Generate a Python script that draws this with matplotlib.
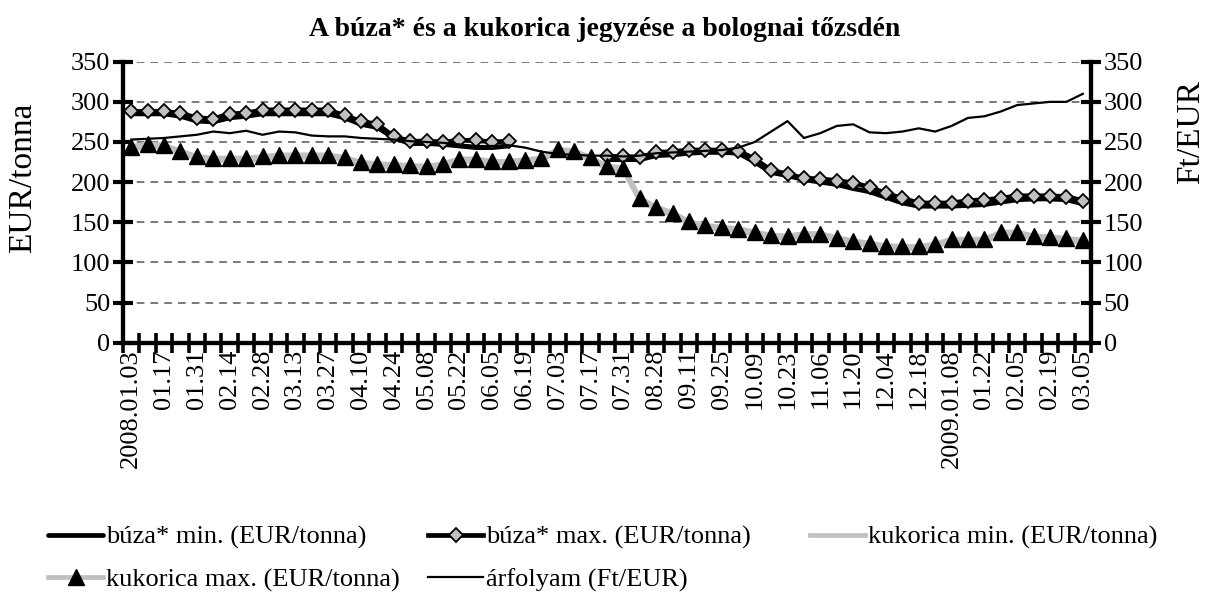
import matplotlib.pyplot as plt
import numpy as np

plt.rcParams['font.family'] = ['Liberation Serif', 'DejaVu Serif']

# weekly quotations, Bologna exchange, 2008.01.03 - 2009.03.05
dates = ['2008.01.03', '01.10', '01.17', '01.24', '01.31', '02.07', '02.14', '02.21',
         '02.28', '03.06', '03.13', '03.20', '03.27', '04.03', '04.10', '04.17',
         '04.24', '05.01', '05.08', '05.15', '05.22', '05.29', '06.05', '06.12',
         '06.19', '06.26', '07.03', '07.10', '07.17', '07.24', '07.31', '08.21',
         '08.28', '09.04', '09.11', '09.18', '09.25', '10.02', '10.09', '10.16',
         '10.23', '10.30', '11.06', '11.13', '11.20', '11.27', '12.04', '12.11',
         '12.18', '12.23', '2009.01.08', '01.15', '01.22', '01.29', '02.05', '02.12',
         '02.19', '02.26', '03.05']

nan = np.nan
wheat_min = [285, 285, 285, 282, 276, 275, 280, 282, 285, 285, 285, 285, 285, 280, 272, 268,
             255, 248, 248, 247, 245, 243, 243, 245, nan, nan, nan, nan, nan, 228, 228, 228,
             233, 234, 236, 237, 237, 236, 225, 212, 208, 203, 200, 197, 192, 188, 181, 174,
             170, 170, 170, 171, 172, 175, 178, 179, 179, 178, 173]
wheat_max = [288, 288, 288, 286, 280, 279, 285, 286, 290, 290, 290, 290, 290, 283, 276, 272,
             257, 251, 251, 250, 252, 252, 250, 251, nan, nan, nan, nan, nan, 232, 232, 231,
             237, 238, 240, 240, 240, 239, 229, 215, 210, 205, 204, 202, 199, 194, 186, 180,
             174, 174, 174, 177, 178, 180, 183, 183, 183, 182, 177]
corn_min = [240, 245, 243, 236, 229, 227, 227, 227, 229, 231, 231, 231, 231, 228, 222, 220,
            219, 218, 217, 220, 226, 226, 223, 223, 225, 227, 238, 236, 228, 217, 215, 177,
            166, 159, 148, 143, 141, 139, 135, 131, 130, 133, 133, 128, 124, 121, 118, 117,
            117, 120, 126, 126, 126, 135, 135, 130, 129, 127, 125]
corn_max = [244, 248, 246, 239, 232, 230, 230, 230, 232, 234, 234, 234, 234, 231, 225, 223,
            222, 221, 220, 223, 229, 229, 226, 226, 228, 230, 241, 239, 231, 220, 218, 180,
            169, 162, 151, 146, 144, 142, 138, 134, 133, 136, 136, 131, 127, 124, 121, 120,
            120, 123, 129, 129, 129, 138, 138, 133, 132, 130, 128]
fx = [253, 254, 255, 257, 259, 263, 261, 264, 259, 263, 262, 258, 257, 257, 255, 254,
      253, 251, 250, 249, 247, 245, 245, 246, 243, 238, 235, 234, 233, 233, 232, 233,
      236, 237, 238, 239, 240, 243, 250, 263, 276, 255, 261, 270, 272, 262, 261, 263,
      267, 263, 270, 280, 282, 288, 296, 298, 300, 300, 310]

labels = ['búza* min. (EUR/tonna)', 'búza* max. (EUR/tonna)', 'kukorica min. (EUR/tonna)',
          'kukorica max. (EUR/tonna)', 'árfolyam (Ft/EUR)']

fs = 19
grey = '#c0c0c0'
x = np.arange(len(dates))

fig = plt.figure(figsize=(12.1, 5.95), dpi=100)
ax = fig.add_axes([0.1017, 0.424, 0.8, 0.4723])

h1, = ax.plot(x, wheat_min, color='black', lw=3.4, solid_capstyle='round', label=labels[0])
h2, = ax.plot(x, wheat_max, color='black', lw=3.4, marker='D', ms=7.5, mfc=grey, mec='black',
              mew=1.3, label=labels[1])
h3, = ax.plot(x, corn_min, color=grey, lw=3.4, label=labels[2])
h4, = ax.plot(x, corn_max, color=grey, lw=3.4, marker='^', ms=11.5, mfc='black', mec='black',
              label=labels[3])

ax2 = ax.twinx()
h5, = ax2.plot(x, fx, color='black', lw=1.6, label=labels[4])

for a in (ax, ax2):
    a.set_ylim(0, 350)
    a.set_yticks(np.arange(0, 351, 50))
    a.tick_params(axis='y', direction='inout', length=14, width=3, labelsize=fs, pad=2)
    a.spines['top'].set_visible(False)
    for s in ('left', 'right', 'bottom'):
        a.spines[s].set_linewidth(3)

ax.set_xlim(-0.5, len(dates) - 0.5)
ax.yaxis.grid(True, linestyle=(0, (5, 4)), color='#555555', lw=1.1)
ax.set_axisbelow(True)

# tick marks between categories, labels on every second category
ax.set_xticks(np.arange(-0.5, len(dates)), minor=True)
ax.set_xticks(x[::2], dates[::2], rotation=90)
ax.tick_params(axis='x', which='minor', direction='inout', length=14, width=2.6)
ax.tick_params(axis='x', which='major', length=0, labelsize=fs, pad=5)

ax.set_ylabel('EUR/tonna', fontsize=24)
ax.yaxis.set_label_coords(-0.088, 0.586)
ax2.set_ylabel('Ft/EUR', fontsize=24)
ax2.yaxis.set_label_coords(1.087, 0.75)

fig.text(0.5, 1 - 30 / 595, 'A búza* és a kukorica jegyzése a bolognai tőzsdén',
         ha='center', va='center', fontsize=20, fontweight='bold')

# legend: one small legend per column so the columns sit where they do in the original
columns = [([h1, h4], 0.0397), ([h2, h5], 0.3537), ([h3], 0.6694)]
for hs, xpos in columns:
    fig.legend(hs, [h.get_label() for h in hs], frameon=False, fontsize=fs,
               loc='upper left', bbox_to_anchor=(xpos, 0.117), borderaxespad=0, borderpad=0,
               handlelength=2.1, handletextpad=0.1, labelspacing=0.7)

fig.savefig('out.png', dpi=100)
